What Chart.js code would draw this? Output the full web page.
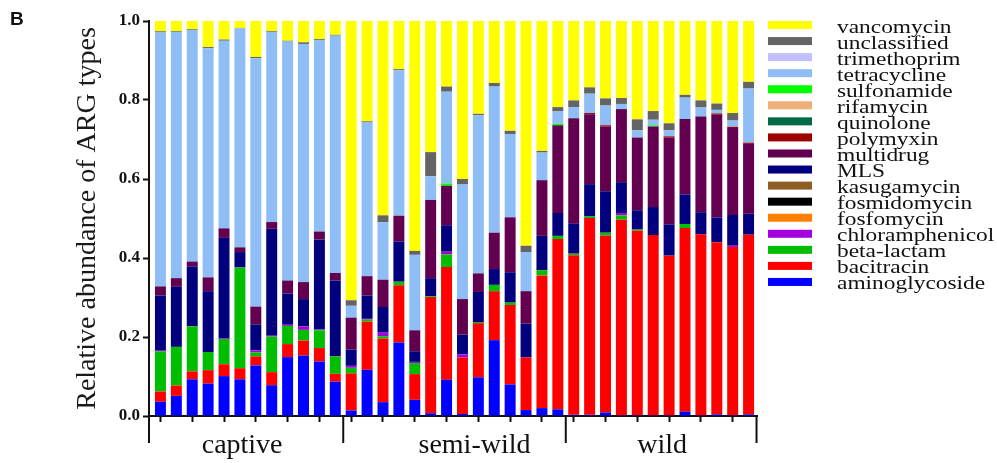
<!DOCTYPE html>
<html>
<head>
<meta charset="utf-8">
<script src="https://cdn.jsdelivr.net/npm/chart.js@4.4.0/dist/chart.umd.min.js"></script>
<style>
  html, body { margin: 0; padding: 0; background: #fff; }
  #wrap { position: relative; width: 997px; height: 463px; }
</style>
</head>
<body>
<div id="wrap"><canvas id="chart"></canvas></div>
<script>
// groups of samples along the x axis
var groupNames = ['captive', 'semi-wild', 'wild'];
var groupSizes = [12, 14, 12];

// ARG types, bottom of the stack first
var argTypes = ['aminoglycoside', 'bacitracin', 'beta-lactam', 'chloramphenicol', 'fosfomycin',
  'fosmidomycin', 'kasugamycin', 'MLS', 'multidrug', 'polymyxin', 'quinolone', 'rifamycin',
  'sulfonamide', 'tetracycline', 'trimethoprim', 'unclassified', 'vancomycin'];
var argColors = ['#0000ff', '#ff0000', '#00bd00', '#a400dd', '#ff8000',
  '#000000', '#8f5e24', '#00007e', '#62004f', '#9c0000', '#006a45', '#efb07a',
  '#00ff00', '#8ebef5', '#c0c0ff', '#646464', '#ffff00'];

var yTicks = [0, 0.2, 0.4, 0.6, 0.8, 1.0];

// relative abundance per sample (12 captive, 14 semi-wild, 12 wild)
var aminoglycoside = [.036,.051,.093,.082,.101,.093,.128,.078,.149,.153,.138,.087,
  .014,.117,.035,.186,.041,.007,.092,.005,.098,.192,.080,.015,.020,.017,
  .003,.003,.009,.002,.002,.002,.002,.011,.002,.004,.002,.004];
var bacitracin = [.026,.026,.020,.034,.030,.028,.023,.033,.033,.038,.034,.020,
  .094,.122,.161,.145,.065,.294,.285,.143,.137,.124,.201,.133,.336,.431,
  .404,.498,.448,.495,.467,.456,.404,.465,.458,.436,.426,.455];
var betaLactam = [.102,.098,.114,.046,.064,.255,.010,.090,.046,.027,.045,.044,
  .014,.005,.006,.009,.028,.002,.032,0,.003,.016,.006,0,.013,.008,
  .004,.004,.007,.011,.003,0,0,.010,0,0,0,0];
var chloramphenicol = [.003,0,0,0,.002,0,.005,.002,.003,.009,.002,0,
  .005,.002,.009,0,.003,0,.007,.008,0,0,0,0,0,0,
  0,0,0,.006,0,0,0,0,0,0,.003,0];
var fosfomycin = [0,0,0,0,0,0,0,0,0,0,0,0,
  0,0,0,0,0,0,0,0,0,0,0,0,0,0,
  0,0,0,0,0,0,0,0,0,0,0,0];
var fosmidomycin = [0,0,0,0,0,0,0,0,0,0,0,0,
  0,0,0,0,0,0,0,0,0,0,0,0,0,0,
  0,0,0,0,0,0,0,0,0,0,0,0];
var kasugamycin = [0,0,0,0,0,0,0,0,0,0,0,0,
  0,0,0,0,0,0,0,0,0,0,0,0,0,0,
  0,0,0,0,0,0,0,0,0,0,0,0];
var MLS = [.138,.152,.152,.154,.254,.039,.066,.271,.079,.069,.228,.192,
  .041,.059,.065,.102,.027,.046,.067,.050,.076,.040,.077,.086,.087,.058,
  .076,.082,.105,.078,.049,.071,.079,.075,.056,.063,.078,.053];
var multidrug = [.023,.022,.012,.035,.024,.012,.045,.017,.033,.043,.020,.019,
  .081,.049,.069,.065,.053,.198,.100,.090,.047,.092,.139,.082,.141,.222,
  .267,.177,.164,.185,.184,.204,.220,.191,.242,.260,.220,.177];
var polymyxin = [0,0,0,0,0,0,0,0,0,0,0,0,
  0,0,0,0,0,0,0,0,0,0,0,0,0,0,
  0,.003,.003,0,0,0,.003,0,0,.003,.003,.003];
var quinolone = [0,0,0,0,0,0,0,0,0,0,0,0,
  0,0,0,0,0,0,0,0,0,0,0,0,0,0,
  0,0,0,0,0,0,0,0,0,0,0,0];
var rifamycin = [0,0,0,0,0,0,0,0,0,0,0,0,
  0,0,0,0,0,0,0,0,0,0,0,0,0,0,
  0,0,0,0,0,0,0,0,0,0,0,0];
var sulfonamide = [0,0,0,0,0,0,0,0,0,0,0,0,
  0,0,0,0,0,0,.006,0,0,0,0,0,0,.004,
  0,0,0,0,0,.003,0,0,0,0,0,0];
var tetracycline = [.643,.623,.586,.580,.475,.554,.629,.481,.605,.603,.484,.601,
  .030,.389,.146,.368,.191,.060,.232,.290,.400,.370,.211,.099,.070,.031,
  .028,.049,.050,.013,.018,.014,.015,.054,.023,.009,.016,.137];
var trimethoprim = [0,0,0,0,0,0,0,0,0,0,0,0,
  0,0,0,0,0,0,0,0,0,0,0,0,0,0,
  0,0,0,0,0,0,0,0,0,0,0,0];
var unclassified = [.003,.002,.002,.003,.003,.001,.003,.002,.002,.004,.003,.002,
  .014,.003,.017,.003,.010,.061,.013,.014,.004,.009,.008,.016,.004,.011,
  .017,.016,.018,.015,.028,.022,.018,.007,.018,.016,.019,.017];
var vancomycin = [.026,.026,.021,.066,.047,.018,.091,.026,.050,.054,.046,.035,
  .707,.254,.492,.122,.582,.332,.166,.400,.235,.157,.278,.569,.329,.218,
  .201,.168,.196,.195,.249,.228,.259,.187,.201,.209,.233,.154];

var seriesData = [aminoglycoside, bacitracin, betaLactam, chloramphenicol, fosfomycin,
  fosmidomycin, kasugamycin, MLS, multidrug, polymyxin, quinolone, rifamycin,
  sulfonamide, tetracycline, trimethoprim, unclassified, vancomycin];

// sample positions = running index over the groups
var sampleIndex = [];
groupSizes.forEach(function(n) {
  for (var k = 0; k < n; k++) sampleIndex.push(sampleIndex.length);
});

var datasets = argTypes.map(function(name, i) {
  return {
    label: name,
    data: seriesData[i],
    backgroundColor: argColors[i],
    borderWidth: 0,
    barPercentage: 0.69,
    categoryPercentage: 1
  };
});

// group ticks, group names, panel letter and the legend
var decor = {
  id: 'decor',
  afterDraw: function(chart) {
    var ctx = chart.ctx, x = chart.scales.x, area = chart.chartArea;
    ctx.save();

    var edges = [area.left];
    var n = 0;
    groupSizes.forEach(function(s) {
      n += s;
      edges.push(x.getPixelForValue(n - 0.5));
    });
    ctx.strokeStyle = '#111';
    ctx.lineWidth = 2;
    edges.forEach(function(px) {
      ctx.beginPath();
      ctx.moveTo(px, area.bottom);
      ctx.lineTo(px, area.bottom + 27);
      ctx.stroke();
    });

    var nudge = [-4, 20, 1];
    ctx.fillStyle = '#111';
    ctx.font = '28px "Liberation Serif"';
    ctx.textAlign = 'center';
    ctx.textBaseline = 'alphabetic';
    groupNames.forEach(function(g, i) {
      ctx.fillText(g, (edges[i] + edges[i + 1]) / 2 + nudge[i], area.bottom + 37);
    });

    ctx.textAlign = 'left';
    ctx.font = 'bold 19px "Liberation Sans"';
    ctx.fillText('B', 10, 25);

    // legend, top of stack first
    ctx.font = '18px "Liberation Serif"';
    for (var i = argTypes.length - 1, r = 0; i >= 0; i--, r++) {
      var cy = area.top + 4 + r * 16.06;
      ctx.fillStyle = argColors[i];
      ctx.fillRect(area.right + 11, cy - 4, 44, 8);
      ctx.fillStyle = '#111';
      ctx.save();
      ctx.translate(area.right + 80, cy + 7.5);
      ctx.scale(1.3, 1);
      ctx.fillText(argTypes[i], 0, 0);
      ctx.restore();
    }
    ctx.restore();
  }
};

new Chart(document.getElementById('chart'), {
  type: 'bar',
  data: { labels: sampleIndex, datasets: datasets },
  options: {
    responsive: true,
    maintainAspectRatio: false,
    animation: false,
    layout: { padding: { left: 71, top: 21, right: 240, bottom: 0 } },
    plugins: { legend: { display: false }, tooltip: { enabled: false } },
    scales: {
      x: {
        type: 'linear',
        stacked: true,
        min: -0.72,
        max: 37.53,
        offset: false,
        afterBuildTicks: function(scale) {
          scale.ticks = sampleIndex.filter(function(v) { return v % 2 === 0; })
            .map(function(v) { return { value: v }; });
        },
        afterFit: function(scale) { scale.height = 47; },
        ticks: { display: false },
        grid: {
          offset: false,
          drawOnChartArea: false,
          drawTicks: true,
          tickLength: 6,
          tickWidth: 2,
          tickColor: '#111'
        },
        border: { display: true, color: '#111', width: 2 }
      },
      y: {
        stacked: true,
        min: 0,
        max: 1,
        afterBuildTicks: function(scale) {
          scale.ticks = yTicks.map(function(v) { return { value: v }; });
        },
        afterFit: function(scale) { scale.width = 78; },
        ticks: {
          padding: 3,
          color: '#111',
          font: { family: 'Liberation Serif', weight: 'bold', size: 17 },
          callback: function(v) { return Number(v).toFixed(1); }
        },
        grid: {
          drawOnChartArea: false,
          drawTicks: true,
          tickLength: 6,
          tickWidth: 2,
          tickColor: '#111'
        },
        border: { display: true, color: '#111', width: 2 },
        title: {
          display: true,
          text: 'Relative abundance of ARG types',
          color: '#1a1a1a',
          padding: { top: 0, bottom: 0 },
          font: { family: 'Liberation Serif', size: 28 }
        }
      }
    }
  },
  plugins: [decor]
});
</script>
</body>
</html>
